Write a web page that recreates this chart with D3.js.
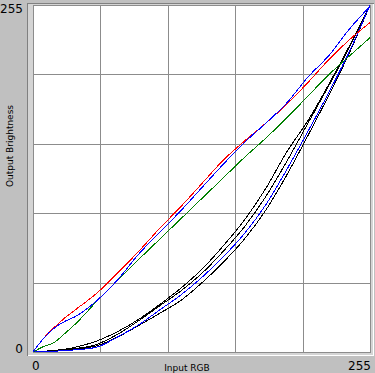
<!DOCTYPE html>
<html>
<head>
<meta charset="utf-8">
<script src="https://cdn.jsdelivr.net/npm/d3@7"></script>
<style>
  html, body { margin:0; padding:0; background:#c0c0c0; }
  svg { display:block; }
</style>
</head>
<body>
<div id="chart"></div>
<script>
var svg_width=375
	svg_height=373;

// input levels shared by every curve
var inputLevels = [0, 8, 16, 24, 32, 48, 64, 80, 96, 112, 128, 144, 160, 176, 192, 208, 224, 240, 255];

// output brightness
var redOut    = [0, 10, 18, 25, 31, 43, 58, 74, 91, 107, 124, 141, 155, 168, 182, 198, 215, 230, 242];
var greenOut  = [0, 4, 7, 13.5, 20.5, 37, 52.5, 68, 83, 98, 113, 128, 143, 157, 172, 188, 204, 218, 231];
var blueOut   = [0, 10, 17.5, 22.5, 26, 37.5, 53, 72, 88, 104, 121, 138, 154, 168, 183, 202, 218, 238, 254];
var blackA    = [0, 0.5, 1.2, 2, 3.5, 8, 15, 24, 35, 47, 61, 78, 97, 120, 147, 170, 197, 226, 255];
var blackB    = [0, 0.4, 0.9, 1.5, 2.5, 5.5, 13, 23, 34, 45, 58, 74, 92, 114, 140, 168, 196, 225, 255];
var blueLow   = [0, 0.3, 0.6, 1, 1.6, 3.5, 11, 20, 31, 42, 55, 70, 87, 108, 134, 162, 191, 222, 255];
var blackC    = [0, 0.3, 0.6, 1, 2, 4.5, 11, 19.5, 28.5, 38, 51, 66, 83, 104, 130, 159, 189, 221, 255];

var gridTicks = [0, 51, 102, 153, 204, 255];
var endLabels = ["0", "255"];

var svg = d3.select("#chart").append("svg")
		.attr("width",svg_width)
		.attr("height",svg_height);

var x = d3.scaleLinear().domain([0,255]).range([33,370]);
var y = d3.scaleLinear().domain([0,255]).range([352,5]);

// sunken frame round the plot
svg.append("rect")
		.attr("x",27).attr("y",3)
		.attr("width",347).attr("height",353)
		.attr("fill","#d4d4d4");
svg.append("path")
		.attr("d","M27.5,356V3.5H374")
		.attr("fill","none").attr("stroke","#808080")
		.attr("shape-rendering","crispEdges");
svg.append("path")
		.attr("d","M28,355.5H373.5V4")
		.attr("fill","none").attr("stroke","#ffffff")
		.attr("shape-rendering","crispEdges");

svg.append("rect")
		.attr("x",x(0)).attr("y",y(255))
		.attr("width",x(255)-x(0)).attr("height",y(0)-y(255))
		.attr("fill","#ffffff");

var grid = svg.append("g")
		.attr("stroke","#8c8c8c")
		.attr("shape-rendering","crispEdges");

grid.selectAll(".vg").data(gridTicks).enter().append("line")
		.attr("class","vg")
		.attr("x1",function(d){ return Math.round(x(d))+0.5; })
		.attr("x2",function(d){ return Math.round(x(d))+0.5; })
		.attr("y1",y(255)).attr("y2",y(0)+1);

grid.selectAll(".hg").data(gridTicks).enter().append("line")
		.attr("class","hg")
		.attr("y1",function(d){ return Math.round(y(d))+0.5; })
		.attr("y2",function(d){ return Math.round(y(d))+0.5; })
		.attr("x1",x(0)).attr("x2",x(255)+1);

var line = d3.line()
		.curve(d3.curveMonotoneX)
		.x(function(d){ return x(d[0]); })
		.y(function(d){ return y(d[1]); });

var curves = [
	{vals:blackA,  color:"#000000"},
	{vals:blackB,  color:"#000000"},
	{vals:blackC,  color:"#000000"},
	{vals:blueLow, color:"#0000ff"},
	{vals:greenOut,color:"#008000"},
	{vals:redOut,  color:"#ff0000"},
	{vals:blueOut, color:"#0000ff"}
];

svg.append("g").selectAll("path").data(curves).enter().append("path")
		.attr("d",function(c){ return line(d3.zip(inputLevels,c.vals)); })
		.attr("fill","none")
		.attr("stroke",function(c){ return c.color; })
		.attr("stroke-width",1)
		.attr("shape-rendering","crispEdges");

// axis end values
var lab = svg.append("g")
		.attr("font-family","'DejaVu Sans'")
		.attr("font-size","12px")
		.attr("fill","#000");

lab.append("text").attr("x",23).attr("y",13).attr("text-anchor","end").text(endLabels[1]);
lab.append("text").attr("x",23).attr("y",353).attr("text-anchor","end").text(endLabels[0]);
lab.append("text").attr("x",32).attr("y",370).text(endLabels[0]);
lab.append("text").attr("x",371).attr("y",370).attr("text-anchor","end").text(endLabels[1]);

svg.append("text")
		.attr("x",187).attr("y",371)
		.attr("text-anchor","middle")
		.attr("font-family","'DejaVu Sans'")
		.attr("font-size","9px")
		.attr("fill","#000")
		.text("Input RGB");

svg.append("text")
		.attr("transform","translate(13,146) rotate(-90)")
		.attr("text-anchor","middle")
		.attr("font-family","'DejaVu Sans'")
		.attr("font-size","9px")
		.attr("fill","#000")
		.text("Output Brightness");
</script>
</body>
</html>
